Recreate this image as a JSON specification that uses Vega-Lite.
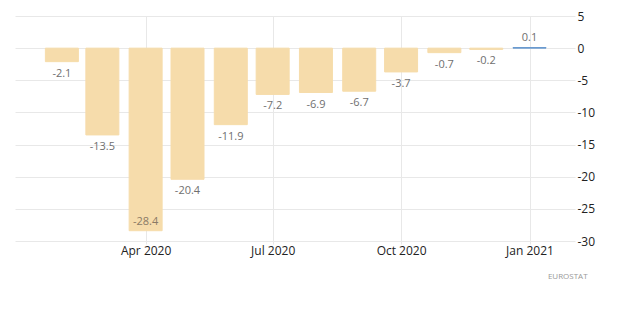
{
  "$schema": "https://vega.github.io/schema/vega-lite/v6.json",
  "autosize": {"type": "none"},
  "width": 560,
  "height": 225,
  "padding": {"left": 15, "top": 16, "right": 45, "bottom": 81},
  "background": "white",
  "config": {"view": {"stroke": null}, "font": "Open Sans"},
  "title": {"text": "EUROSTAT", "orient": "bottom", "anchor": "end", "fontSize": 8, "fontWeight": "normal", "color": "#999999", "offset": 17, "dx": -7},
  "data": {"values": [
    {"date": "2020-02-01", "value": -2.1, "latest": "no"},
    {"date": "2020-03-01", "value": -13.5, "latest": "no"},
    {"date": "2020-04-01", "value": -28.4, "latest": "no"},
    {"date": "2020-05-01", "value": -20.4, "latest": "no"},
    {"date": "2020-06-01", "value": -11.9, "latest": "no"},
    {"date": "2020-07-01", "value": -7.2, "latest": "no"},
    {"date": "2020-08-01", "value": -6.9, "latest": "no"},
    {"date": "2020-09-01", "value": -6.7, "latest": "no"},
    {"date": "2020-10-01", "value": -3.7, "latest": "no"},
    {"date": "2020-11-01", "value": -0.7, "latest": "no"},
    {"date": "2020-12-01", "value": -0.2, "latest": "no"},
    {"date": "2021-01-01", "value": 0.1, "latest": "yes"}
  ]},
  "transform": [{"calculate": "replace(format(datum.value, '.1f'), '\u2212', '-')", "as": "label"}],
  "encoding": {
    "x": {
      "field": "date", "type": "temporal",
      "scale": {"type": "utc", "domain": [{"year": 2020, "month": 1, "date": 2, "utc": true}, {"year": 2021, "month": 1, "date": 30, "utc": true}]},
      "axis": {
        "title": null, "orient": "bottom", "format": "%b %Y", "domain": false,
        "values": [{"year": 2020, "month": 4, "date": 1, "utc": true}, {"year": 2020, "month": 7, "date": 1, "utc": true}, {"year": 2020, "month": 10, "date": 1, "utc": true}, {"year": 2021, "month": 1, "date": 1, "utc": true}],
        "grid": true, "gridColor": "#e8e8e8", "ticks": true, "tickColor": "#e8e8e8", "tickSize": 3,
        "labelPadding": 1, "labelFontSize": 12, "labelColor": "#222222", "labelFont": "Open Sans"
      }
    },
    "y": {
      "field": "value", "type": "quantitative",
      "scale": {"domain": [-30, 5], "nice": false, "zero": false},
      "axis": {
        "title": null, "orient": "right", "values": [5, 0, -5, -10, -15, -20, -25, -30],
        "labelExpr": "replace(datum.label, '\u2212', '-')",
        "domain": false, "ticks": false, "grid": true, "gridColor": "#e8e8e8",
        "labelPadding": 2, "labelFontSize": 12, "labelColor": "#222222", "labelFont": "Open Sans"
      }
    }
  },
  "layer": [
    {
      "mark": {"type": "bar", "size": 33, "strokeWidth": 1},
      "encoding": {
        "color": {"field": "latest", "type": "nominal", "scale": {"domain": ["no", "yes"], "range": ["#f6dcab", "#6a9bcf"]}, "legend": null},
        "stroke": {"field": "latest", "type": "nominal", "scale": {"domain": ["no", "yes"], "range": ["#f6dcab", "#6a9bcf"]}, "legend": null}
      }
    },
    {
      "transform": [{"filter": "datum.value < 0 && datum.value > -25"}],
      "mark": {"type": "text", "dy": 12, "baseline": "middle", "fontSize": 11, "color": "#6f6f6f"},
      "encoding": {"text": {"field": "label", "type": "nominal"}}
    },
    {
      "transform": [{"filter": "datum.value <= -25"}],
      "mark": {"type": "text", "dy": -9, "baseline": "middle", "fontSize": 11, "color": "#8a7a66"},
      "encoding": {"text": {"field": "label", "type": "nominal"}}
    },
    {
      "transform": [{"filter": "datum.value >= 0"}],
      "mark": {"type": "text", "dy": -10, "baseline": "middle", "fontSize": 11, "color": "#6f6f6f"},
      "encoding": {"text": {"field": "label", "type": "nominal"}}
    }
  ]
}
